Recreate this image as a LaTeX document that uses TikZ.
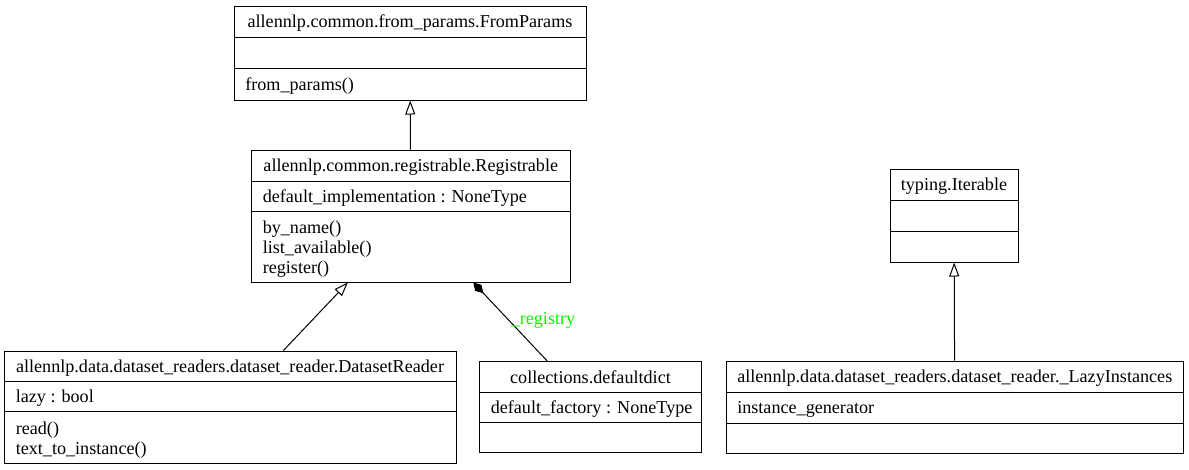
\documentclass[tikz,border=0pt]{standalone}
\usepackage{fontspec}
\setmainfont{Liberation Serif}
\usetikzlibrary{arrows.meta,fit,calc}
\tikzset{
  clsbox/.style={draw=black, line width=0.75pt, inner sep=0pt, fill=none},
  divline/.style={draw=black, line width=0.75pt},
  ttl/.style={inner sep=0pt, anchor=center, text height=9.5pt, text depth=3pt, yshift=-1.3pt},
  itm/.style={inner sep=0pt, anchor=west, text height=9.5pt, text depth=3pt, yshift=-1.3pt},
  itms/.style={inner sep=0pt, anchor=west, align=left, yshift=-1.3pt, font=\fontsize{13.6pt}{15pt}\selectfont},
  inh/.style={draw=black, line width=0.75pt, -{Triangle[open, length=10.5pt, width=7.5pt]}},
  comp/.style={draw=black, line width=0.75pt, -{Diamond[length=11pt, width=6.5pt]}},
  lbl/.style={inner sep=0pt, text=green, text height=9.5pt, text depth=3pt, yshift=-1.3pt}
}
\newcommand{\umlbox}[7]{%
  \coordinate (#1-nw) at (#2,#3);
  \coordinate (#1-se) at (#4,#5);
  \node[clsbox, fit=(#1-nw)(#1-se)] (#1) {};
  \draw[divline] (#2,#6) -- (#4,#6);
  \draw[divline] (#2,#7) -- (#4,#7);
}
\begin{document}
\begin{tikzpicture}[x=0.75pt, y=-0.75pt, font=\fontsize{13.6pt}{15pt}\selectfont]
\useasboundingbox (0,0) rectangle (1189,469);
\fill[white] (0,0) rectangle (1189,469);

% FromParams
\umlbox{fp}{234}{6}{586}{100}{37}{68}
\node[ttl] (fpt) at (410,21.5) {allennlp.common.from\_params.FromParams};
\node[itm] (fpm) at (245,84) {from\_params()};

% Registrable
\umlbox{reg}{251.5}{150}{570}{282}{181}{211}
\node[ttl] (regt) at (410.75,165.5) {allennlp.common.registrable.Registrable};
\node[itm] (rega) at (262.5,196) {default\_implementation : NoneType};
\node[itms] (regm) at (262.5,247) {by\_name()\\list\_available()\\register()};

% DatasetReader
\umlbox{dr}{4}{351}{456}{463}{381.5}{411.5}
\node[ttl] (drt) at (230,366) {allennlp.data.dataset\_readers.dataset\_reader.DatasetReader};
\node[itm] (dra) at (15.5,396.5) {lazy : bool};
\node[itms] (drm) at (15.5,438) {read()\\text\_to\_instance()};

% defaultdict
\umlbox{dd}{479.5}{361.5}{701.5}{452.5}{392}{422.5}
\node[ttl] (ddt) at (590.5,377) {collections.defaultdict};
\node[itm] (dda) at (490.5,407) {default\_factory : NoneType};

% typing.Iterable
\umlbox{it}{890}{169}{1018}{262}{200}{231.5}
\node[ttl] (itt) at (954,184.5) {typing.Iterable};

% _LazyInstances
\umlbox{li}{726}{361}{1183.5}{453}{392}{423}
\node[ttl] (lit) at (954.75,376.5) {allennlp.data.dataset\_readers.dataset\_reader.\_LazyInstances};
\node[itm] (lia) at (737,407.5) {instance\_generator};

% connectors
\draw[inh] (reg) -- (fp);
\draw[inh] (dr) -- (reg);
\draw[comp] (dd) -- (reg);
\draw[inh] (li) -- (it);
\node[lbl] (regl) at (543,318) {\_registry};
\end{tikzpicture}
\end{document}
